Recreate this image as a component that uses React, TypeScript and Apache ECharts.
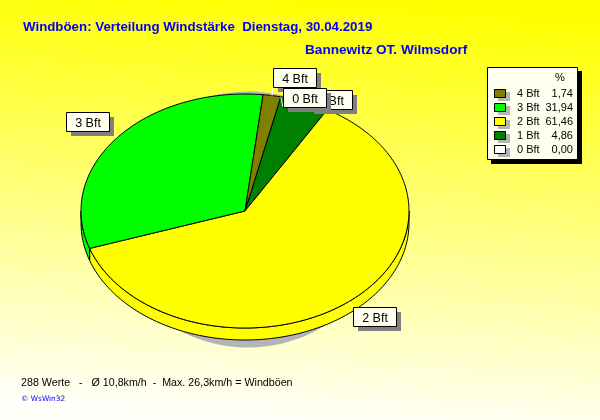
import React, { useEffect, useRef } from "react";
import * as echarts from "echarts";

const titleText = "Windböen: Verteilung Windstärke  Dienstag, 30.04.2019";
const subtitleText = "Bannewitz OT. Wilmsdorf";
const footerText = "288 Werte   -   Ø 10,8km/h  -  Max. 26,3km/h = Windböen";
const copyrightText = "© WsWin32";

// clockwise order on the pie
const categories = ["0 Bft", "1 Bft", "2 Bft", "3 Bft", "4 Bft"];
const percentages = [0.0, 4.86, 61.46, 31.94, 1.74];
const percentLabels = ["0,00", "4,86", "61,46", "31,94", "1,74"];
const colors = ["#FFFFFF", "#008000", "#FFFF00", "#00FF00", "#808000"];
const startAngle = 12.6;

const CX = 245, CY = 211, RX = 164, RY = 117, DEPTH = 12;
const BOX_W = 43, BOX_H = 19;
// label box offset from the slice's edge anchor
const labelOffsets: Record<string, [number, number]> = {
  "0 Bft": [2, -9],
  "1 Bft": [4, -12],
  "2 Bft": [4, 5],
  "3 Bft": [-51, -26],
  "4 Bft": [1, -28],
};
const labelOrder = ["3 Bft", "2 Bft", "4 Bft", "1 Bft", "0 Bft"];

const total = percentages.reduce((a, b) => a + b, 0);
const sliceRange = (i: number): [number, number] => {
  let a = startAngle;
  for (let k = 0; k < i; k++) a += (percentages[k] / total) * 360;
  return [a, a + (percentages[i] / total) * 360];
};
const pt = (deg: number, dy = 0): [number, number] => {
  const r = (deg * Math.PI) / 180;
  return [CX + RX * Math.sin(r), CY - RY * Math.cos(r) + dy];
};
const arc = (a: number, b: number, dy = 0) => {
  const out: [number, number][] = [];
  const n = Math.max(1, Math.ceil((b - a) / 1.5));
  for (let i = 0; i <= n; i++) out.push(pt(a + ((b - a) * i) / n, dy));
  return out;
};

const renderSlice = (params: any, api: any) => {
  const i = params.dataIndex;
  if (api.value(1) <= 0) return { type: "group", children: [] };
  const [a, b] = sliceRange(i);
  const style = { fill: colors[i], stroke: "#000", lineWidth: 1 };
  const children: any[] = [];
  // rim: only the part of the slice on the lower half of the disc
  const ra = Math.max(a, 90), rb = Math.min(b, 270);
  if (rb > ra) {
    children.push({
      type: "polygon",
      shape: { points: [...arc(ra, rb), ...arc(ra, rb, DEPTH).reverse()] },
      style,
    });
  }
  children.push({
    type: "polygon",
    shape: { points: [[CX, CY], ...arc(a, b)] },
    style,
  });
  return { type: "group", children };
};

const renderLabel = (params: any, api: any) => {
  const name = labelOrder[params.dataIndex];
  const i = categories.indexOf(name);
  const [a, b] = sliceRange(i);
  const [ax, ay] = pt((a + b) / 2);
  const [ox, oy] = labelOffsets[name];
  const x = Math.round(ax + ox), y = Math.round(ay + oy);
  const cornerX = ox < 0 ? x + BOX_W : x;
  const cornerY = oy < 0 ? y + BOX_H : y;
  return {
    type: "group",
    children: [
      { type: "line", shape: { x1: ax, y1: ay, x2: cornerX, y2: cornerY }, style: { stroke: "#FFFFFF", lineWidth: 1 } },
      { type: "rect", shape: { x: x + 5, y: y + 5, width: BOX_W, height: BOX_H }, style: { fill: "#808080" } },
      { type: "rect", shape: { x: x + 0.5, y: y + 0.5, width: BOX_W, height: BOX_H }, style: { fill: "#FFFFF0", stroke: "#000", lineWidth: 1 } },
      {
        type: "text",
        x: x + BOX_W / 2 + 0.5,
        y: y + BOX_H / 2 + 1,
        style: { text: name, fill: "#000", font: "12.5px 'Liberation Sans'", textAlign: "center", textVerticalAlign: "middle" },
      },
    ],
  };
};

const legendRows = [...categories.keys()].reverse();

const buildGraphic = () => {
  const F = "'Liberation Sans'";
  const els: any[] = [
    {
      type: "rect", z: -10, shape: { x: 0, y: 0, width: 600, height: 420 },
      style: {
        fill: new echarts.graphic.LinearGradient(0.55, 0, 0.45, 1, [
          { offset: 0, color: "#FFFF00" },
          { offset: 1, color: "#FFFFFA" },
        ]),
      },
    },
    { type: "ellipse", z: -5, shape: { cx: 248, cy: 219.5, rx: 137, ry: 128 }, style: { fill: "#B4B4B4" } },
    { type: "text", x: 23, y: 26, style: { text: titleText, fill: "#0000FF", font: `bold 13.3px ${F}`, textVerticalAlign: "middle" } },
    { type: "text", x: 305, y: 49, style: { text: subtitleText, fill: "#0000FF", font: `bold 13.6px ${F}`, textVerticalAlign: "middle" } },
    { type: "text", x: 21, y: 382, style: { text: footerText, fill: "#000", font: `10.7px ${F}`, textVerticalAlign: "middle" } },
    { type: "text", x: 21, y: 398, style: { text: copyrightText, fill: "#0000FF", font: `7.4px 'DejaVu Sans'`, textVerticalAlign: "middle" } },
    { type: "rect", shape: { x: 491, y: 71, width: 91, height: 93 }, style: { fill: "#000" } },
    { type: "rect", shape: { x: 487.5, y: 67.5, width: 90, height: 92 }, style: { fill: "#FFFFF0", stroke: "#000", lineWidth: 1 } },
    { type: "text", x: 560, y: 77, style: { text: "%", fill: "#000", font: `11px ${F}`, textAlign: "center", textVerticalAlign: "middle" } },
  ];
  legendRows.forEach((i, row) => {
    const y = 93 + row * 14;
    els.push(
      { type: "rect", shape: { x: 498, y: y - 1, width: 12, height: 9 }, style: { fill: "#B4B4B4" } },
      { type: "rect", shape: { x: 494.5, y: y - 3.5, width: 11, height: 8 }, style: { fill: colors[i], stroke: "#000", lineWidth: 1 } },
      { type: "text", x: 517, y, style: { text: categories[i], fill: "#000", font: `11px ${F}`, textVerticalAlign: "middle" } },
      { type: "text", x: 573, y, style: { text: percentLabels[i], fill: "#000", font: `11px ${F}`, textAlign: "right", textVerticalAlign: "middle" } },
    );
  });
  return els;
};

export default function App() {
  const ref = useRef<HTMLDivElement>(null);
  useEffect(() => {
    const chart = echarts.init(ref.current!, undefined, { renderer: "svg" });
    chart.setOption({
      animation: false,
      graphic: buildGraphic(),
      series: [
        {
          type: "custom",
          coordinateSystem: "none",
          renderItem: renderSlice,
          data: categories.map((c, i) => ({ name: c, value: [i, percentages[i]] })),
          silent: true,
          z: 2,
        },
        {
          type: "custom",
          coordinateSystem: "none",
          renderItem: renderLabel,
          data: labelOrder.map((c) => ({ name: c, value: [categories.indexOf(c), percentages[categories.indexOf(c)]] })),
          silent: true,
          z: 3,
        },
      ],
    });
    return () => chart.dispose();
  }, []);
  return <div ref={ref} style={{ position: "fixed", left: 0, top: 0, width: 600, height: 420 }} />;
}
